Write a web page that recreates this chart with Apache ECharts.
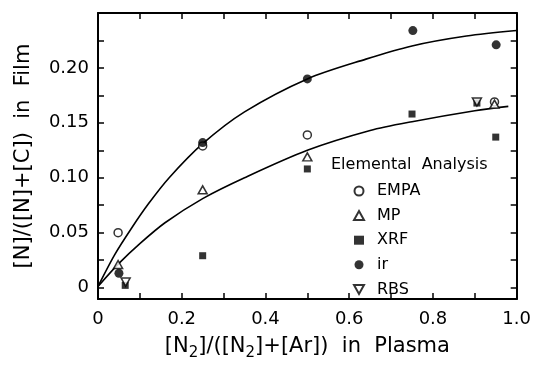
<!DOCTYPE html>
<html>
<head>
<meta charset="utf-8">
<script src="https://cdn.jsdelivr.net/npm/echarts@6/dist/echarts.min.js"></script>
<style>
  html, body { margin: 0; padding: 0; background: #fff; }
  #chart { width: 534px; height: 366px; }
</style>
</head>
<body>
<div id="chart"></div>
<script>
// measured points, [x, y]
const empa = [[0.048, 0.050], [0.25, 0.129], [0.5, 0.139], [0.947, 0.169]];
const mp = [[0.048, 0.021], [0.25, 0.089], [0.5, 0.119], [0.947, 0.167]];
const xrf = [[0.065, 0.002], [0.25, 0.029], [0.5, 0.108], [0.75, 0.158], [0.905, 0.168], [0.95, 0.137]];
const ir = [[0.05, 0.013], [0.25, 0.132], [0.5, 0.19], [0.752, 0.234], [0.951, 0.221]];
const rbs = [[0.066, 0.005], [0.905, 0.169]];

// hand-drawn guide curves
const upperCurve = [[0, 0.001], [0.04, 0.03], [0.08, 0.054], [0.12, 0.076], [0.17, 0.1], [0.25, 0.131],
    [0.35, 0.16], [0.5, 0.19], [0.64, 0.208], [0.75, 0.22], [0.88, 0.229], [1.0, 0.234]];
const lowerCurve = [[0, 0.001], [0.05, 0.022], [0.1, 0.04], [0.16, 0.059], [0.25, 0.081], [0.35, 0.1],
    [0.5, 0.125], [0.65, 0.143], [0.75, 0.151], [0.9, 0.161], [0.98, 0.165]];

const xLabelValues = [0, 0.2, 0.4, 0.6, 0.8, 1.0];
const yLabelValues = [0, 0.05, 0.10, 0.15, 0.20];
const yTickValues = [0, 0.025, 0.05, 0.075, 0.1, 0.125, 0.15, 0.175, 0.2, 0.225, 0.25];

const FONT = 'DejaVu Sans';
const INK = '#000';
const DOWN_TRIANGLE = 'path://M0,0L10,0L5,9Z';

const frameLine = {show: true, onZero: false, lineStyle: {color: INK, width: 2}};
const inTick = {show: true, inside: true, length: 6, lineStyle: {color: INK, width: 1.5}};

function openStyle() {
    return {color: '#fff', borderColor: INK, borderWidth: 1.5};
}

const chart = echarts.init(document.getElementById('chart'), null, {renderer: 'canvas'});

chart.setOption({
    backgroundColor: '#fff',
    animation: false,
    textStyle: {fontFamily: FONT, color: INK},
    title: {
        text: 'Elemental  Analysis',
        left: 326,
        top: 152,
        textStyle: {fontFamily: FONT, fontSize: 16, fontWeight: 'normal', color: INK}
    },
    legend: {
        data: ['EMPA', 'MP', 'XRF', 'ir', {name: 'RBS', icon: DOWN_TRIANGLE}],
        orient: 'vertical',
        left: 348,
        top: 178,
        itemWidth: 10,
        itemHeight: 9,
        itemGap: 8.6,
        selectedMode: false,
        textStyle: {fontFamily: FONT, fontSize: 16, color: INK, padding: [0, 0, 0, 8]}
    },
    grid: {left: 98, right: 17, top: 13, bottom: 60},
    xAxis: [{
        type: 'value',
        min: 0,
        max: 1,
        interval: 0.1,
        axisLine: frameLine,
        axisTick: inTick,
        splitLine: {show: false},
        axisLabel: {
            customValues: xLabelValues,
            margin: 11,
            fontFamily: FONT,
            fontSize: 18,
            color: INK,
            formatter: v => v === 0 ? '0' : v.toFixed(1)
        },
        name: '[N{sub|2}]/([N{sub|2}]+[Ar])  in  Plasma',
        nameLocation: 'middle',
        nameGap: 30,
        nameTextStyle: {
            fontFamily: FONT,
            fontSize: 21,
            color: INK,
            lineHeight: 28,
            rich: {sub: {fontFamily: FONT, fontSize: 15, lineHeight: 14, verticalAlign: 'bottom', color: INK}}
        }
    }, {
        type: 'value',
        position: 'top',
        min: 0,
        max: 1,
        interval: 0.1,
        axisLine: frameLine,
        axisTick: inTick,
        axisLabel: {show: false},
        splitLine: {show: false}
    }],
    yAxis: [{
        type: 'value',
        min: -0.0105,
        max: 0.25,
        axisLine: frameLine,
        axisTick: Object.assign({customValues: yTickValues}, inTick),
        splitLine: {show: false},
        axisLabel: {
            customValues: yLabelValues,
            margin: 9,
            fontFamily: FONT,
            fontSize: 18,
            color: INK,
            formatter: v => v === 0 ? '0' : v.toFixed(2)
        },
        name: '[N]/([N]+[C])  in  Film',
        nameLocation: 'middle',
        nameGap: 64,
        nameTextStyle: {fontFamily: FONT, fontSize: 21, color: INK}
    }, {
        type: 'value',
        position: 'right',
        min: -0.0105,
        max: 0.25,
        axisLine: frameLine,
        axisTick: Object.assign({customValues: yTickValues}, inTick),
        axisLabel: {show: false},
        splitLine: {show: false}
    }],
    series: [
        {
            name: 'upper', type: 'line', data: upperCurve, smooth: 0.3, showSymbol: false,
            lineStyle: {color: INK, width: 1.6}, silent: true, z: 1
        },
        {
            name: 'lower', type: 'line', data: lowerCurve, smooth: 0.3, showSymbol: false,
            lineStyle: {color: INK, width: 1.6}, silent: true, z: 1
        },
        {name: 'EMPA', type: 'scatter', data: empa, symbol: 'circle', symbolSize: 8, itemStyle: openStyle(), z: 3},
        {name: 'MP', type: 'scatter', data: mp, symbol: 'triangle', symbolSize: [9, 8], itemStyle: openStyle(), z: 4},
        {name: 'XRF', type: 'scatter', data: xrf, symbol: 'rect', symbolSize: 7, itemStyle: {color: INK}, z: 2},
        {name: 'ir', type: 'scatter', data: ir, symbol: 'circle', symbolSize: 9, itemStyle: {color: INK}, z: 3},
        {
            name: 'RBS', type: 'scatter', data: rbs, symbol: DOWN_TRIANGLE, symbolSize: [9, 8],
            itemStyle: openStyle(), z: 4
        }
    ]
});
</script>
</body>
</html>
